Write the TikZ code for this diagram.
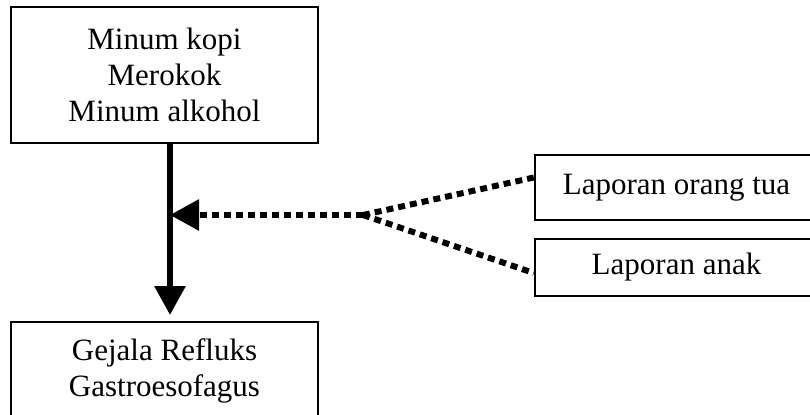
\documentclass[tikz,border=0pt]{standalone}
\usepackage{fontspec}
\setmainfont{Liberation Serif}
\usetikzlibrary{arrows.meta}
\def\drawflow{\draw[line width=3pt,-{Triangle[length=14.5pt,width=15pt]}]}
\def\drawreport{\draw[line width=3pt,dash pattern=on 3.5pt off 2.5pt]}
\tikzset{box/.style={draw,line width=1.2pt,inner sep=0pt,align=center,font=\fontsize{15.5}{18}\selectfont}}

\begin{document}
\begin{tikzpicture}[x=0.5pt,y=-0.5pt]
\useasboundingbox (0,0) rectangle (810,414);
\node[box,minimum width=153.5pt,minimum height=68pt] (habits) at (164.5,75) {Minum kopi\\Merokok\\Minum alkohol};
\node[box,minimum width=153.5pt,anchor=north,inner ysep=8pt] (gerd) at (164.5,321) {Gejala Refluks\\Gastroesofagus\rule[-30pt]{0pt}{30pt}};
\node[box,minimum width=141.5pt,minimum height=32.5pt] (ortu) at (676.5,187.5) {Laporan orang tua};
\node[box,minimum width=141.5pt,minimum height=28.5pt] (anak) at (676.5,267.5) {Laporan anak};
\coordinate (mid) at (170,215);
\coordinate (split) at (363,215);
\drawflow (habits.south -| mid) -- ([yshift=3pt]gerd.north -| mid);
\drawreport[-{Triangle[length=14.5pt,width=15pt]}] (split) -- (mid);
\drawreport (split) -- ([yshift=5pt]ortu.west);
\drawreport (split) -- ([yshift=-2.75pt]anak.west);
\end{tikzpicture}
\end{document}
